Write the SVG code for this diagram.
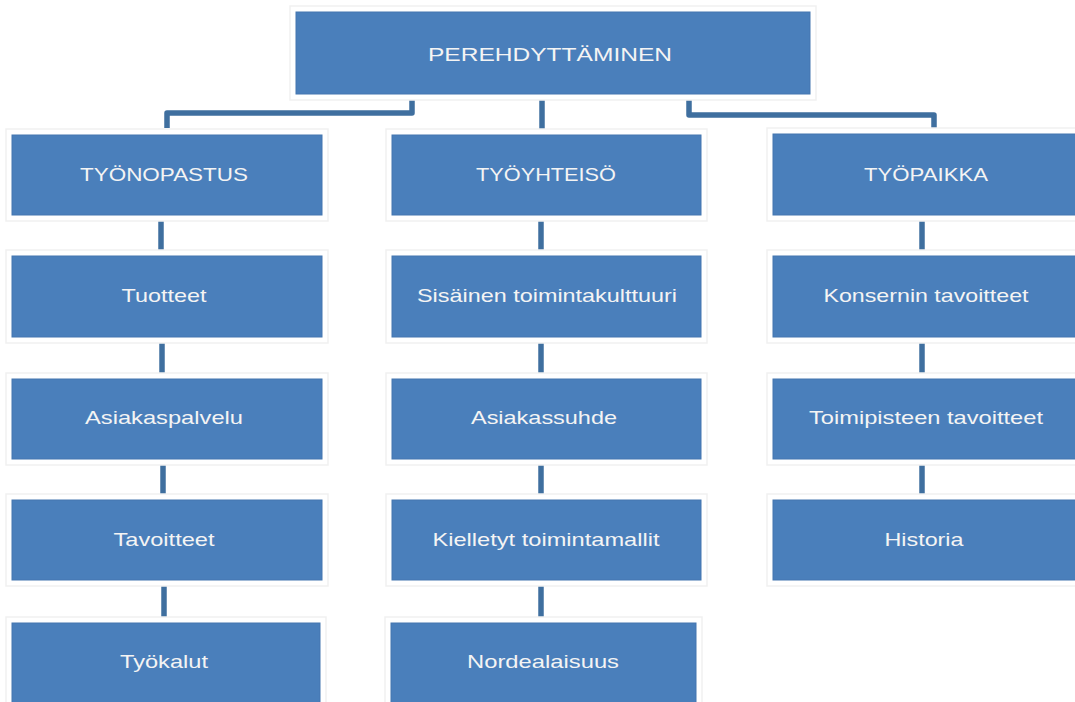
<svg xmlns="http://www.w3.org/2000/svg" width="1075" height="702" viewBox="0 0 1075 702">
  <style>
    .halo { fill: #ffffff; stroke: #f1f1f1; stroke-width: 1.5; }
    .box { fill: #4a7fbb; stroke: #4577b0; stroke-width: 1; }
    .lbl { font-family: "Liberation Sans", Arial, sans-serif; font-size: 19px; fill: #f4f4f4; text-anchor: middle; }
    .link { fill: none; stroke: #3f6f9f; stroke-width: 5.5; stroke-linejoin: round; }
  </style>
  <rect width="1075" height="702" fill="#ffffff"/>

  <!-- connectors -->
  <g id="connectors">
    <path class="link" d="M412 97 V113 H167 V128"/>
    <path class="link" d="M542 97 V133"/>
    <path class="link" d="M689 97 V115 H934 V128"/>

    <path class="link" d="M161 220 V250"/>
    <path class="link" d="M162 342 V373"/>
    <path class="link" d="M163 464 V494"/>
    <path class="link" d="M164 584 V617"/>

    <path class="link" d="M541 220 V250"/>
    <path class="link" d="M541 342 V373"/>
    <path class="link" d="M541 464 V494"/>
    <path class="link" d="M541 584 V617"/>

    <path class="link" d="M922 220 V250"/>
    <path class="link" d="M922 342 V373"/>
    <path class="link" d="M922 464 V494"/>
  </g>

  <!-- root -->
  <g id="root">
    <rect class="halo" x="290" y="6" width="526" height="94"/>
    <rect class="box" x="296" y="12" width="514" height="82"/>
    <text class="lbl" x="550" y="61" font-size="20" textLength="244" lengthAdjust="spacingAndGlyphs">PEREHDYTTÄMINEN</text>
  </g>

  <!-- left column -->
  <g id="tyonopastus">
    <rect class="halo" x="6" y="129" width="322" height="92"/>
    <rect class="box" x="12" y="135" width="310" height="80"/>
    <text class="lbl" x="164" y="181" textLength="168" lengthAdjust="spacingAndGlyphs">TYÖNOPASTUS</text>
  </g>
  <g id="tuotteet">
    <rect class="halo" x="6" y="250" width="322" height="93"/>
    <rect class="box" x="12" y="256" width="310" height="81"/>
    <text class="lbl" x="164" y="302" textLength="85" lengthAdjust="spacingAndGlyphs">Tuotteet</text>
  </g>
  <g id="asiakaspalvelu">
    <rect class="halo" x="6" y="373" width="322" height="92"/>
    <rect class="box" x="12" y="379" width="310" height="80"/>
    <text class="lbl" x="164" y="424" textLength="158" lengthAdjust="spacingAndGlyphs">Asiakaspalvelu</text>
  </g>
  <g id="tavoitteet">
    <rect class="halo" x="6" y="494" width="322" height="92"/>
    <rect class="box" x="12" y="500" width="310" height="80"/>
    <text class="lbl" x="164" y="546" textLength="101" lengthAdjust="spacingAndGlyphs">Tavoitteet</text>
  </g>
  <g id="tyokalut">
    <rect class="halo" x="6" y="617" width="320" height="92"/>
    <rect class="box" x="12" y="623" width="308" height="84"/>
    <text class="lbl" x="164" y="668" textLength="88" lengthAdjust="spacingAndGlyphs">Työkalut</text>
  </g>

  <!-- middle column -->
  <g id="tyoyhteiso">
    <rect class="halo" x="386" y="129" width="321" height="92"/>
    <rect class="box" x="392" y="135" width="309" height="80"/>
    <text class="lbl" x="546" y="181" textLength="140" lengthAdjust="spacingAndGlyphs">TYÖYHTEISÖ</text>
  </g>
  <g id="sisainen">
    <rect class="halo" x="386" y="250" width="321" height="93"/>
    <rect class="box" x="392" y="256" width="309" height="81"/>
    <text class="lbl" x="547" y="302" textLength="260" lengthAdjust="spacingAndGlyphs">Sisäinen toimintakulttuuri</text>
  </g>
  <g id="asiakassuhde">
    <rect class="halo" x="386" y="373" width="321" height="92"/>
    <rect class="box" x="392" y="379" width="309" height="80"/>
    <text class="lbl" x="544" y="424" textLength="146" lengthAdjust="spacingAndGlyphs">Asiakassuhde</text>
  </g>
  <g id="kielletyt">
    <rect class="halo" x="386" y="494" width="321" height="92"/>
    <rect class="box" x="392" y="500" width="309" height="80"/>
    <text class="lbl" x="546" y="546" textLength="227" lengthAdjust="spacingAndGlyphs">Kielletyt toimintamallit</text>
  </g>
  <g id="nordealaisuus">
    <rect class="halo" x="385" y="617" width="317" height="92"/>
    <rect class="box" x="391" y="623" width="305" height="84"/>
    <text class="lbl" x="543" y="668" textLength="152" lengthAdjust="spacingAndGlyphs">Nordealaisuus</text>
  </g>

  <!-- right column -->
  <g id="tyopaikka">
    <rect class="halo" x="767" y="128" width="322" height="93"/>
    <rect class="box" x="773" y="134" width="310" height="81"/>
    <text class="lbl" x="926" y="181" textLength="124" lengthAdjust="spacingAndGlyphs">TYÖPAIKKA</text>
  </g>
  <g id="konsernin">
    <rect class="halo" x="767" y="250" width="322" height="93"/>
    <rect class="box" x="773" y="256" width="310" height="81"/>
    <text class="lbl" x="926" y="302" textLength="205" lengthAdjust="spacingAndGlyphs">Konsernin tavoitteet</text>
  </g>
  <g id="toimipisteen">
    <rect class="halo" x="767" y="373" width="322" height="92"/>
    <rect class="box" x="773" y="379" width="310" height="80"/>
    <text class="lbl" x="926" y="424" textLength="234" lengthAdjust="spacingAndGlyphs">Toimipisteen tavoitteet</text>
  </g>
  <g id="historia">
    <rect class="halo" x="767" y="494" width="322" height="92"/>
    <rect class="box" x="773" y="500" width="310" height="80"/>
    <text class="lbl" x="924" y="546" textLength="79" lengthAdjust="spacingAndGlyphs">Historia</text>
  </g>
</svg>
